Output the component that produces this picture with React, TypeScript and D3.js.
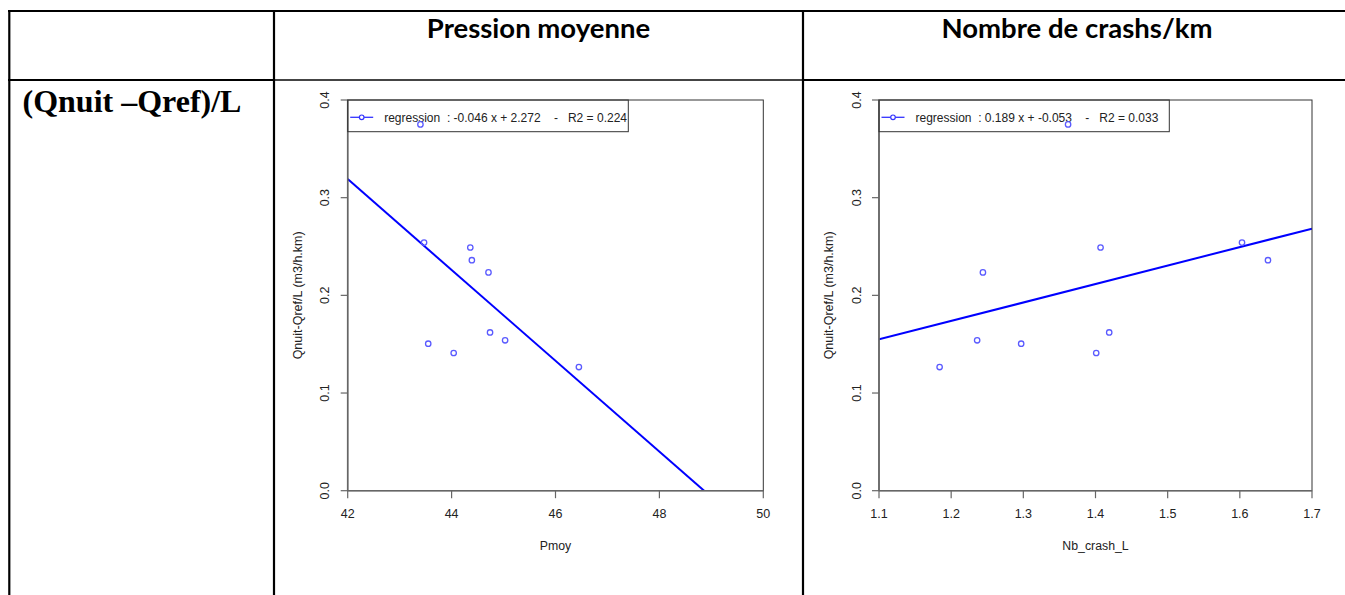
import React from 'react';
import * as d3 from 'd3';

// values
const pmoy = [43.40, 43.47, 44.36, 44.39, 44.71, 43.55, 44.04, 44.74, 45.03, 46.45];
const nbCrash = [1.362, 1.603, 1.407, 1.639, 1.244, 1.297, 1.401, 1.419, 1.236, 1.184];
const qnuit = [0.375, 0.254, 0.249, 0.236, 0.2235, 0.1505, 0.141, 0.162, 0.154, 0.1266];

const pmoyTicks = [42, 44, 46, 48, 50];
const crashTicks = [1.1, 1.2, 1.3, 1.4, 1.5, 1.6, 1.7];
const yTicks = [0, 0.1, 0.2, 0.3, 0.4];

const regLeft = { slope: -0.0465, intercept: 2.272 };
const regRight = { slope: 0.189, intercept: -0.053 };

const legendLeft = 'regression  : -0.046 x + 2.272    -   R2 = 0.224';
const legendRight = 'regression  : 0.189 x + -0.053    -   R2 = 0.033';

const W = 1345;
const H = 595;
const FONT = '"Liberation Sans", Arial, sans-serif';

type PanelProps = {
  id: string;
  xs: number[];
  ys: number[];
  xDomain: [number, number];
  xTicks: number[];
  xFmt: (v: number) => string;
  reg: { slope: number; intercept: number };
  legend: string;
  legendW: number;
  xLabel: string;
  left: number;
  right: number;
};

function Panel(p: PanelProps) {
  const top = 100;
  const bottom = 490.7;
  const x = d3.scaleLinear().domain(p.xDomain).range([p.left, p.right]);
  const y = d3.scaleLinear().domain([0, 0.4]).range([bottom, top]);
  const lineGen = d3.line<number>().x(d => x(d)).y(d => y(p.reg.slope * d + p.reg.intercept));
  const yFmt = d3.format('.1f');
  const midY = (top + bottom) / 2;

  return (
    <g fontFamily={FONT} fontSize={12.5} fill="#222">
      <defs>
        <clipPath id={p.id}>
          <rect x={p.left} y={top} width={p.right - p.left} height={bottom - top} />
        </clipPath>
      </defs>

      {/* regression line */}
      <path d={lineGen(p.xDomain) || ''} stroke="#0000ff" strokeWidth={2} fill="none" clipPath={`url(#${p.id})`} />

      {/* frame */}
      <rect x={p.left} y={top} width={p.right - p.left} height={bottom - top} fill="none" stroke="#333" strokeWidth={1} />

      {/* x axis */}
      <line x1={x(p.xDomain[0])} x2={x(p.xDomain[1])} y1={bottom} y2={bottom} stroke="#666" strokeWidth={1.6} />
      {p.xTicks.map(t => (
        <g key={t}>
          <line x1={x(t)} x2={x(t)} y1={bottom} y2={bottom + 7.5} stroke="#666" strokeWidth={1.2} />
          <text x={x(t)} y={518} textAnchor="middle">{p.xFmt(t)}</text>
        </g>
      ))}

      {/* y axis */}
      <line x1={p.left} x2={p.left} y1={y(0)} y2={y(0.4)} stroke="#666" strokeWidth={1.6} />
      {yTicks.map(t => (
        <g key={t}>
          <line x1={p.left - 7} x2={p.left} y1={y(t)} y2={y(t)} stroke="#666" strokeWidth={1.2} />
          <text transform={`translate(${p.left - 18.5},${y(t)}) rotate(-90)`} textAnchor="middle">{yFmt(t)}</text>
        </g>
      ))}

      {/* axis titles */}
      <text x={(p.left + p.right) / 2} y={550} textAnchor="middle" fontSize={12.3}>{p.xLabel}</text>
      <text transform={`translate(${p.left - 46},${midY}) rotate(-90)`} textAnchor="middle" fontSize={12.5}>
        Qnuit-Qref/L (m3/h.km)
      </text>

      {/* legend */}
      <rect x={p.left} y={top} width={p.legendW} height={31.7} fill="none" stroke="#333" strokeWidth={1} />
      <line x1={p.left + 2.5} x2={p.left + 25.5} y1={117.3} y2={117.3} stroke="#3333ff" strokeWidth={1.3} />
      <circle cx={p.left + 14} cy={117.3} r={2.3} fill="#fff" stroke="#3333ff" strokeWidth={1.2} />
      <text x={p.left + 36.5} y={121.5} fontSize={12} style={{ whiteSpace: 'pre' }}>{p.legend}</text>

      {/* points */}
      {p.xs.map((v, i) => (
        <circle key={i} cx={x(v)} cy={y(p.ys[i])} r={2.7} fill="none" stroke="#5a5aff" strokeWidth={1.3} />
      ))}
    </g>
  );
}

export default function App() {
  return (
    <svg width={W} height={H} style={{ position: 'absolute', left: 0, top: 0, background: '#fff' }}>
      <rect width={W} height={H} fill="#fff" />

      {/* table grid */}
      <g stroke="#000" strokeWidth={2.2}>
        <line x1={8} x2={W} y1={11} y2={11} />
        <line x1={8} x2={274} y1={80} y2={80} />
        <line x1={274} x2={803} y1={80} y2={80} stroke="#444" />
        <line x1={803} x2={W} y1={80} y2={80} />
        <line x1={9.3} x2={9.3} y1={10} y2={H} />
        <line x1={274} x2={274} y1={10} y2={H} />
        <line x1={803} x2={803} y1={10} y2={H} />
      </g>

      {/* header cells */}
      <g fontFamily="Lato, 'Open Sans', sans-serif" fontWeight="bold" fontSize={27.5} fill="#000" textAnchor="middle">
        <text x={538.5} y={38}>Pression moyenne</text>
        <text x={1077} y={38}>Nombre de crashs/km</text>
      </g>
      <text x={22.5} y={111.5} fontFamily="'Liberation Serif', 'Times New Roman', serif" fontWeight="bold" fontSize={32} fill="#000">
        (Qnuit –Qref)/L
      </text>

      <Panel
        id="clipL"
        xs={pmoy}
        ys={qnuit}
        xDomain={[42, 50]}
        xTicks={pmoyTicks}
        xFmt={d3.format('d')}
        reg={regLeft}
        legend={legendLeft}
        legendW={280.6}
        xLabel="Pmoy"
        left={347.7}
        right={763.3}
      />
      <Panel
        id="clipR"
        xs={nbCrash}
        ys={qnuit}
        xDomain={[1.1, 1.7]}
        xTicks={crashTicks}
        xFmt={d3.format('.1f')}
        reg={regRight}
        legend={legendRight}
        legendW={290.3}
        xLabel="Nb_crash_L"
        left={879}
        right={1312}
      />
    </svg>
  );
}
